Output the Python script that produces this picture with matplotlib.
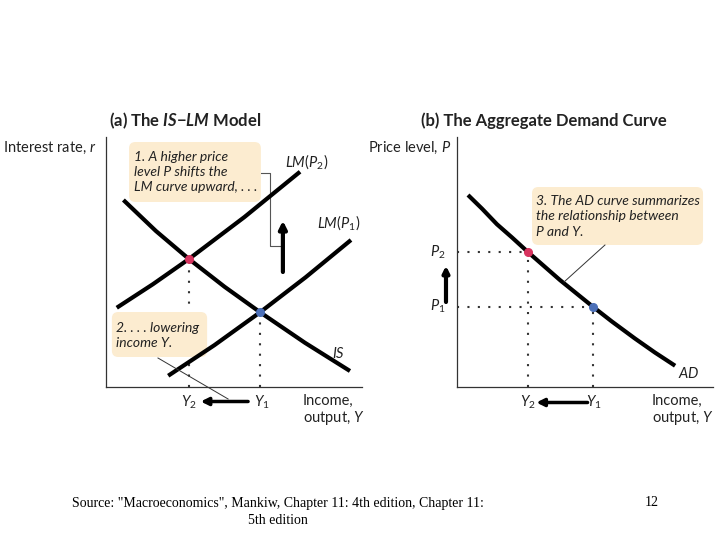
import numpy as np
import matplotlib
matplotlib.use("Agg")
from matplotlib import pyplot
from matplotlib.patches import FancyBboxPatch

pyplot.rcParams['font.family'] = ['Lato', 'DejaVu Sans']
pyplot.rcParams['mathtext.fontset'] = 'custom'
pyplot.rcParams['mathtext.rm'] = 'Lato'
pyplot.rcParams['mathtext.it'] = 'Lato:italic'
pyplot.rcParams['mathtext.bf'] = 'Lato:bold'
pyplot.rcParams['mathtext.bfit'] = 'Lato:bold:italic'

# --- data (diagram units 0-100) ---
# (a) IS-LM curves
is_x = [6.8, 19.5, 32.4, 46.3, 60.2, 77.7, 95.3]
is_y = [74.8, 62.4, 51.2, 40.1, 29.9, 17.7, 6.4]
lm2_x = [4.2, 18.3, 32.4, 54.1, 75.8]
lm2_y = [31.7, 41.1, 51.2, 68.0, 86.1]
lm1_x = [24.3, 42.3, 60.2, 78.0, 95.7]
lm1_y = [4.5, 16.7, 29.9, 43.9, 58.8]
eq2_is = 2   # IS point index of equilibrium at Y2 (on LM(P2))
eq1_is = 4   # IS point index of equilibrium at Y1 (on LM(P1))

# (b) AD curve
ad_x = [4.3, 9.8, 15.6, 21.5, 27.7, 34.4, 40.2, 46.1, 53.1, 60.5, 69.5, 77.3, 85.2]
ad_y = [76.8, 71.3, 65.1, 59.8, 54.0, 48.0, 42.8, 37.9, 32.1, 26.2, 19.4, 13.8, 8.5]
ad_idx_p2 = 4   # (Y2, P2)
ad_idx_p1 = 8   # (Y1, P1)

box_color = '#fcecd0'
red = '#d8345f'
blue = '#4c70b8'
txt = '#222222'
LW = 3.0
DOT = (0, (1, 4))
FS = 10.5


def setup(ax):
    ax.set_xlim(0, 100)
    ax.set_ylim(0, 100)
    for s in ['top', 'right']:
        ax.spines[s].set_visible(False)
    for s in ['left', 'bottom']:
        ax.spines[s].set_linewidth(0.9)
        ax.spines[s].set_color('#333333')
    ax.set_xticks([])
    ax.set_yticks([])
    ax.patch.set_alpha(0)


def note_box(ax, x0, y0, w, h):
    # sits above the dotted guides, below the curves
    box = FancyBboxPatch((x0, y0), w, h, boxstyle='round,pad=0,rounding_size=2.5',
                         facecolor=box_color, edgecolor='none', zorder=2.5, clip_on=False)
    ax.add_patch(box)


def arrow(ax, start, end, lw=2.5, ms=11):
    ax.annotate('', xy=end, xytext=start, annotation_clip=False,
                arrowprops=dict(arrowstyle='-|>', color='black', lw=lw, mutation_scale=ms,
                                shrinkA=0, shrinkB=0))


fig = pyplot.figure(figsize=(7.2, 5.4), dpi=100)
W, H = 720, 540


def px_axes(left, top, right, bottom):
    return fig.add_axes([left / W, 1 - bottom / H, (right - left) / W, (bottom - top) / H])


# ---------------- (a) IS-LM ----------------
ax = px_axes(106, 137, 362, 387)
setup(ax)
y2, r2 = is_x[eq2_is], is_y[eq2_is]
y1, r1 = is_x[eq1_is], is_y[eq1_is]

note_box(ax, 9.0, 74.0, 51.5, 24.0)
note_box(ax, 2.3, 12.0, 37.2, 18.0)

for xs, ys in [(is_x, is_y), (lm2_x, lm2_y), (lm1_x, lm1_y)]:
    ax.plot(xs, ys, color='black', lw=LW, solid_capstyle='butt', solid_joinstyle='round', zorder=3)
ax.plot([y2, y2], [0, r2], color='#333333', lw=1.5, ls=DOT, zorder=2)
ax.plot([y1, y1], [0, r1], color='#333333', lw=1.5, ls=DOT, zorder=2)
ax.plot([y2], [r2], 'o', color=red, ms=5.5, zorder=4)
ax.plot([y1], [r1], 'o', color=blue, ms=5.5, zorder=4)

# bracket + upward shift arrow
ax.plot([60.5, 64.1, 64.1, 69.1], [85.6, 85.6, 56.4, 56.4], color='#555555', lw=0.8, zorder=2)
arrow(ax, (69.1, 46.0), (69.1, 66.5), lw=3)
# Y1 -> Y2 arrow
arrow(ax, (55.5, -5.8), (37.0, -5.8))
ax.plot([20.3, 47.7], [11.6, -4.8], color='#333333', lw=0.7, clip_on=False, zorder=3)

ax.text(30.9, 106.6, r'(a) The $\mathbfit{IS}$$\mathbf{-}$$\mathbfit{LM}$ Model', ha='center', va='center',
        fontsize=12, fontweight='bold', color=txt)
ax.text(-3.6, 95.6, r'Interest rate, $r$', ha='right', va='center', fontsize=FS, color=txt)
ax.text(11.0, 86.0, '1. A higher price\nlevel P shifts the\nLM curve upward, . . .',
        ha='left', va='center', fontsize=10, style='italic', linespacing=1.3, color=txt, zorder=5)
ax.text(4.0, 20.6, '2. . . . lowering\nincome Y.', ha='left', va='center', fontsize=10,
        style='italic', linespacing=1.3, color=txt, zorder=5)
ax.text(78.5, 90.0, r'$LM(P_2)$', ha='center', va='center', fontsize=FS, color=txt)
ax.text(91.0, 65.6, r'$LM(P_1)$', ha='center', va='center', fontsize=FS, color=txt)
ax.text(91.0, 13.6, r'$IS$', ha='center', va='center', fontsize=FS, color=txt)
ax.text(y2, -6.0, r'$Y_2$', ha='center', va='center', fontsize=FS, color=txt)
ax.text(y1 + 0.5, -6.0, r'$Y_1$', ha='center', va='center', fontsize=FS, color=txt)
ax.text(77.0, -9.4, 'Income,\noutput, $Y$', ha='left', va='center', fontsize=FS,
        linespacing=1.1, color=txt)

# ---------------- (b) AD ----------------
bx = px_axes(457, 137, 713, 387)
setup(bx)
note_box(bx, 29.3, 56.8, 66.8, 23.2)
bx.plot(ad_x, ad_y, color='black', lw=LW, solid_capstyle='butt', solid_joinstyle='round', zorder=3)
py2, pp2 = ad_x[ad_idx_p2], ad_y[ad_idx_p2]
py1, pp1 = ad_x[ad_idx_p1], ad_y[ad_idx_p1]
for yy, pp in [(py2, pp2), (py1, pp1)]:
    bx.plot([0, yy], [pp, pp], color='#333333', lw=1.5, ls=DOT, zorder=2)
    bx.plot([yy, yy], [0, pp], color='#333333', lw=1.5, ls=DOT, zorder=2)
bx.plot([py2], [pp2], 'o', color=red, ms=5.5, zorder=4)
bx.plot([py1], [pp1], 'o', color=blue, ms=5.5, zorder=4)

arrow(bx, (-4.3, 34.0), (-4.3, 48.5), lw=3, ms=9)
arrow(bx, (51.0, -6.2), (31.0, -6.2))
bx.plot([57.8, 41.8], [56.8, 42.0], color='#333333', lw=0.7, zorder=3)

bx.text(34.0, 106.6, '(b) The Aggregate Demand Curve', ha='center', va='center',
        fontsize=12, fontweight='bold', color=txt)
bx.text(-2.3, 95.6, r'Price level, $P$', ha='right', va='center', fontsize=FS, color=txt)
bx.text(31.0, 68.2, '3. The AD curve summarizes\nthe relationship between\nP and Y.',
        ha='left', va='center', fontsize=10, style='italic', linespacing=1.35, color=txt, zorder=5)
bx.text(-7.4, pp2, r'$P_2$', ha='center', va='center', fontsize=FS, color=txt)
bx.text(-7.4, pp1, r'$P_1$', ha='center', va='center', fontsize=FS, color=txt)
bx.text(py2, -6.2, r'$Y_2$', ha='center', va='center', fontsize=FS, color=txt)
bx.text(py1 + 0.5, -6.2, r'$Y_1$', ha='center', va='center', fontsize=FS, color=txt)
bx.text(90.6, 5.6, r'$AD$', ha='center', va='center', fontsize=FS, color=txt)
bx.text(76.2, -9.4, 'Income,\noutput, $Y$', ha='left', va='center', fontsize=FS,
        linespacing=1.1, color=txt)

# ---------------- source footer ----------------
fig.text(72 / W, 1 - 503 / H, 'Source: "Macroeconomics", Mankiw, Chapter 11: 4th edition, Chapter 11:',
         ha='left', va='center', fontsize=10, family='Liberation Serif')
fig.text(278 / W, 1 - 521 / H, '5th edition', ha='center', va='center', fontsize=10,
         family='Liberation Serif')
fig.text(652 / W, 1 - 503 / H, '12', ha='center', va='center', fontsize=10, family='Liberation Serif')

fig.savefig('out.png', dpi=100)
pyplot.close(fig)
